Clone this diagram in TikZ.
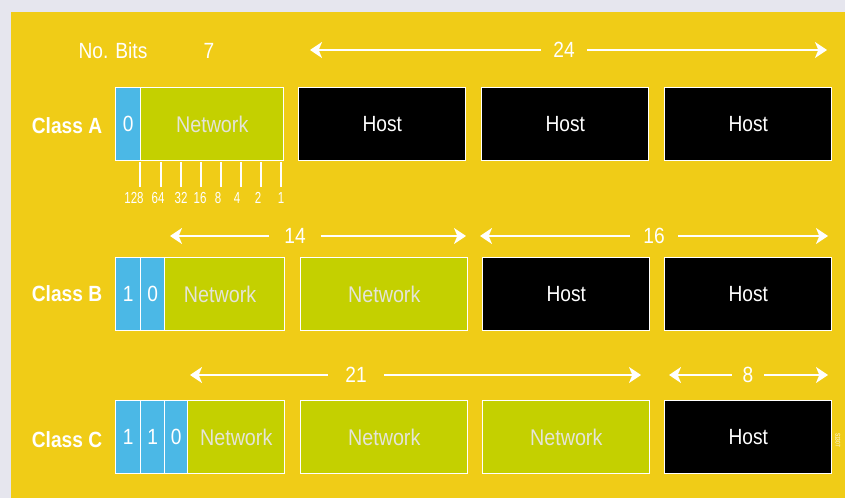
\documentclass[tikz,border=0pt]{standalone}
\usepackage{fontspec}
\setmainfont{Liberation Sans}
\newfontfamily\cf{Liberation Sans}[FakeStretch=0.87]
\newfontfamily\cfs{Liberation Sans}[FakeStretch=0.72]
\usetikzlibrary{arrows.meta}
\definecolor{bgyellow}{HTML}{F0CC17}
\definecolor{bitblue}{HTML}{4BB8E6}
\definecolor{netgreen}{HTML}{C4D000}
\definecolor{netfont}{HTML}{E4E4D8}
\definecolor{edgegray}{HTML}{E6E6EE}
\begin{document}
\begin{tikzpicture}[x=0.75pt,y=-0.75pt,
  cell/.style={draw=white,line width=1.1pt,inner sep=0pt,minimum height=54.75pt,anchor=north west,font=\cf\fontsize{16.5}{18}\selectfont},
  bit/.style={cell,fill=bitblue,text=white,minimum width=18pt},
  net/.style={cell,fill=netgreen,text=netfont,font=\cf\fontsize{17}{18}\selectfont},
  host/.style={cell,fill=black,text=white,minimum width=125.25pt},
  lab/.style={text=white,font=\cf\bfseries\fontsize{16.5}{18}\selectfont},
  num/.style={text=white,font=\cf\fontsize{16.5}{18}\selectfont,inner xsep=9pt,inner ysep=1pt},
  dim/.style={draw=white,line width=1.5pt,-{Stealth[length=9pt,width=12pt,inset=2.5pt]}},
  tickln/.style={draw=white,line width=0.8pt},
  ticklab/.style={text=white,font=\cfs\fontsize{12}{13}\selectfont,inner sep=0pt}]
\fill[edgegray] (0,0) rectangle (845,498);
\fill[bgyellow] (11,12) rectangle (845,498);
\useasboundingbox (0,0) rectangle (845,498);

% header
\node[num] (nobits) at (113,51) {No. Bits};
\node[num] (seven) at (209,51) {7};

% class labels
\node[lab] (ca) at (67,126) {Class A};
\node[lab] (cb) at (67,294) {Class B};
\node[lab] (cc) at (67,440) {Class C};

% Class A
\node[bit,minimum width=18.75pt] (a0) at (115,87) {0};
\node[net,minimum width=107.25pt] (anet) at (140,87) {Network};
\node[host] (ah1) at (298,87) {Host};
\node[host] (ah2) at (481,87) {Host};
\node[host] (ah3) at (664,87) {Host};

% Class B
\node[bit,minimum width=18.75pt] (b1) at (115,257) {1};
\node[bit] (b0) at (140,257) {0};
\node[net,minimum width=90pt] (bnet1) at (164,257) {Network\hspace*{7pt}};
\node[net,minimum width=125.25pt] (bnet2) at (300,257) {Network};
\node[host] (bh1) at (482,257) {Host};
\node[host] (bh2) at (664,257) {Host};

% Class C
\node[bit,minimum width=18.75pt] (c1) at (115,400) {1};
\node[bit] (c2) at (140,400) {1};
\node[bit,minimum width=17.25pt] (c0) at (164,400) {0};
\node[net,minimum width=72.75pt] (cnet1) at (187,400) {Network};
\node[net,minimum width=125.25pt] (cnet2) at (300,400) {Network};
\node[net,minimum width=125.25pt] (cnet3) at (482,400) {Network};
\node[host] (ch1) at (664,400) {Host};

% ticks under class A network
\foreach \x/\lx/\t in {140/134/128,161/158/64,181/181/32,201/200/16,221/218/8,241/237/4,261/258/2,281/281/1}{
  \draw[tickln] (\x,162) -- (\x,187);
  \node[ticklab] at (\lx,198) {\t};
}

% dimension arrows
\node[num] (d24) at (564,50) {24};
\coordinate (d24l) at (310,50);
\coordinate (d24r) at (827,50);
\draw[dim] (d24.west) -- (d24l);
\draw[dim] (d24.east) -- (d24r);

\node[num,inner xsep=11pt] (d14) at (295,236) {14};
\coordinate (d14l) at (170,236);
\coordinate (d14r) at (466,236);
\draw[dim] (d14.west) -- (d14l);
\draw[dim] (d14.east) -- (d14r);

\node[num,inner xsep=10pt] (d16) at (654,236) {16};
\coordinate (d16l) at (480,236);
\coordinate (d16r) at (828,236);
\draw[dim] (d16.west) -- (d16l);
\draw[dim] (d16.east) -- (d16r);

\node[num,inner xsep=13pt] (d21) at (356,375) {21};
\coordinate (d21l) at (190,375);
\coordinate (d21r) at (641,375);
\draw[dim] (d21.west) -- (d21l);
\draw[dim] (d21.east) -- (d21r);

\node[num,inner xsep=8pt] (d8) at (748,375) {8};
\coordinate (d8l) at (669,375);
\coordinate (d8r) at (828,375);
\draw[dim] (d8.west) -- (d8l);
\draw[dim] (d8.east) -- (d8r);

% figure code
\node[text=white,font=\cfs\fontsize{5}{6}\selectfont,rotate=-90,inner sep=0pt] (code) at (838,440) {S1307};
\end{tikzpicture}
\end{document}
